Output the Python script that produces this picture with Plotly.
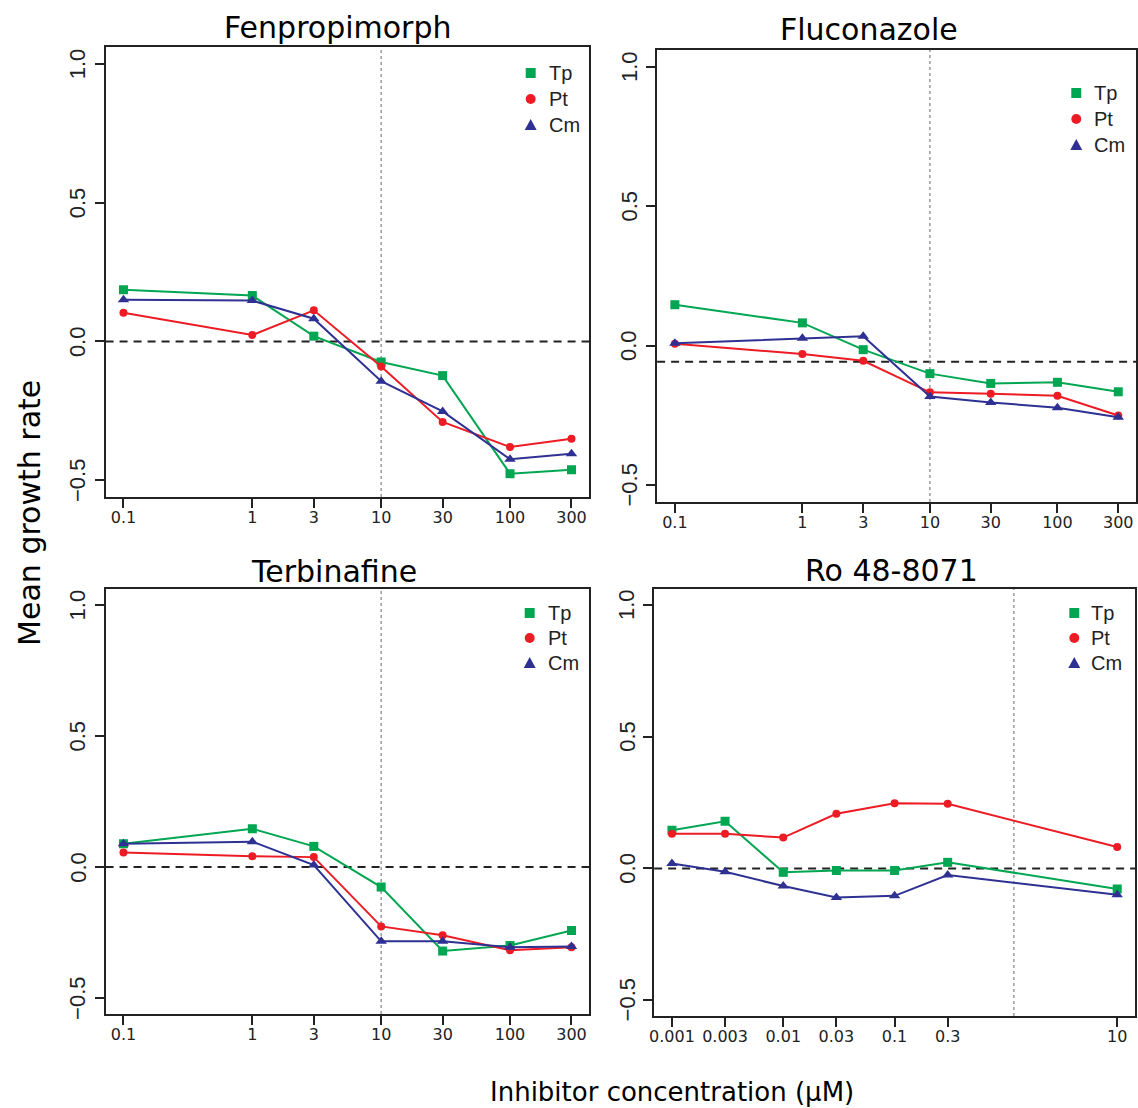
import math
import plotly.graph_objects as go

W, H = 1138, 1108

# Inhibitor concentrations (µM) and tick labels
conc_main = [0.1, 1, 3, 10, 30, 100, 300]
conc_ro = [0.001, 0.003, 0.01, 0.03, 0.1, 0.3, 10]
ticks_main = ["0.1", "1", "3", "10", "30", "100", "300"]
ticks_ro = ["0.001", "0.003", "0.01", "0.03", "0.1", "0.3", "10"]

# Mean growth rates per strain
fen_tp = [0.186, 0.165, 0.019, -0.074, -0.123, -0.476, -0.462]
fen_pt = [0.103, 0.023, 0.112, -0.090, -0.290, -0.380, -0.350]
fen_cm = [0.150, 0.147, 0.082, -0.143, -0.252, -0.424, -0.404]

flu_tp = [0.147, 0.082, -0.014, -0.100, -0.135, -0.131, -0.165]
flu_pt = [0.007, -0.030, -0.054, -0.167, -0.172, -0.179, -0.250]
flu_cm = [0.009, 0.027, 0.034, -0.182, -0.203, -0.222, -0.256]

ter_tp = [0.089, 0.146, 0.079, -0.076, -0.320, -0.299, -0.242]
ter_pt = [0.056, 0.041, 0.038, -0.226, -0.260, -0.317, -0.306]
ter_cm = [0.089, 0.097, 0.008, -0.283, -0.283, -0.306, -0.303]

ro_tp = [0.145, 0.179, -0.015, -0.008, -0.008, 0.023, -0.078]
ro_pt = [0.131, 0.131, 0.117, 0.207, 0.247, 0.245, 0.081]
ro_cm = [0.019, -0.013, -0.067, -0.110, -0.104, -0.025, -0.100]

# Reference lines: horizontal baseline and vertical marker concentration
hline_vals = [0.0, -0.057, 0.0, 0.0]
vline_vals = [10, 10, 10, 1.18]

y_ticks = [-0.5, 0.0, 0.5, 1.0]
y_tick_text = ["\u22120.5", "0.0", "0.5", "1.0"]
y_range = [-0.56, 1.06]

strains = ["Tp", "Pt", "Cm"]
colors = {"Tp": "#00A651", "Pt": "#ED1C24", "Cm": "#2E3192"}
symbols = {"Tp": "square", "Pt": "circle", "Cm": "triangle-up"}
msize = {"Tp": 9, "Pt": 8, "Cm": 10}

panels = [
    dict(title="Fenpropimorph", conc=conc_main, ticks=ticks_main,
         data=[fen_tp, fen_pt, fen_cm],
         box=(101, 587, 47, 497), title_pos=(334, 27), ylab_x=73,
         legend=(528, 544, 73, 26)),
    dict(title="Fluconazole", conc=conc_main, ticks=ticks_main,
         data=[flu_tp, flu_pt, flu_cm],
         box=(655, 1136, 50, 502), title_pos=(868, 29), ylab_x=627,
         legend=(1076, 1092, 93, 26)),
    dict(title="Terbinafine", conc=conc_main, ticks=ticks_main,
         data=[ter_tp, ter_pt, ter_cm],
         box=(101, 587, 589, 1014), title_pos=(330, 571), ylab_x=73,
         legend=(527, 543, 613, 25)),
    dict(title="Ro 48-8071", conc=conc_ro, ticks=ticks_ro,
         data=[ro_tp, ro_pt, ro_cm],
         box=(652, 1135, 589, 1016), title_pos=(890, 570), ylab_x=625,
         legend=(1074, 1089, 613, 25)),
]


def px(x):
    return x / W


def py(y):
    return 1 - y / H


fig = go.Figure()
layout = dict(
    width=W, height=H, margin=dict(l=0, r=0, t=0, b=0),
    paper_bgcolor="white", plot_bgcolor="white", showlegend=False,
)
annotations = []
shapes = []
AX = "#222222"

for i, p in enumerate(panels, start=1):
    xa = "x" if i == 1 else f"x{i}"
    ya = "y" if i == 1 else f"y{i}"
    l, r, t, b = p["box"]
    lo, hi = math.log10(min(p["conc"])), math.log10(max(p["conc"]))
    pad = 0.04 * (hi - lo)

    for s, vals in zip(strains, p["data"]):
        fig.add_trace(go.Scatter(
            x=p["conc"], y=vals, mode="lines+markers", xaxis=xa, yaxis=ya,
            line=dict(color=colors[s], width=2),
            marker=dict(symbol=symbols[s], size=msize[s], color=colors[s]),
            name=s, showlegend=False,
        ))

    layout["xaxis" if i == 1 else f"xaxis{i}"] = dict(
        domain=[px(l), px(r)], anchor=ya, type="log",
        range=[lo - pad, hi + pad],
        tickvals=p["conc"], ticktext=p["ticks"],
        ticks="outside", ticklen=9, tickwidth=2, tickcolor=AX,
        ticklabelstandoff=-4,
        showline=True, linecolor=AX, linewidth=2, mirror=True,
        showgrid=False, zeroline=False,
        tickfont=dict(family="DejaVu Sans", size=16, color="#222"),
    )
    layout["yaxis" if i == 1 else f"yaxis{i}"] = dict(
        domain=[py(b), py(t)], anchor=xa, range=y_range,
        tickvals=y_ticks, showticklabels=False,
        ticks="outside", ticklen=9, tickwidth=2, tickcolor=AX,
        showline=True, linecolor=AX, linewidth=2, mirror=True,
        showgrid=False, zeroline=False,
    )

    # rotated y tick labels
    for v, txt in zip(y_ticks, y_tick_text):
        annotations.append(dict(
            x=px(p["ylab_x"]), xref="paper", y=v, yref=ya,
            text=txt, textangle=-90, showarrow=False,
            xanchor="center", yanchor="middle",
            font=dict(family="Liberation Sans", size=22, color="#222"),
        ))

    # panel title
    tx, ty = p["title_pos"]
    annotations.append(dict(
        x=px(tx), y=py(ty), xref="paper", yref="paper", text=p["title"],
        showarrow=False, xanchor="center", yanchor="middle",
        font=dict(family="DejaVu Sans", size=30, color="black"),
    ))

    # reference lines (log axis: shape x in data units)
    shapes.append(dict(
        type="line", xref=f"{xa} domain", yref=ya, x0=0, x1=1,
        y0=hline_vals[i - 1], y1=hline_vals[i - 1],
        line=dict(color="#222", width=2, dash="8px,6px"), layer="below",
    ))
    shapes.append(dict(
        type="line", xref=xa, yref=f"{ya} domain",
        x0=vline_vals[i - 1], x1=vline_vals[i - 1],
        y0=0, y1=1,
        line=dict(color="#9a9a9a", width=1.5, dash="3px,3px"), layer="below",
    ))

    # legend keys and labels
    kx, tx0, ky, dy = p["legend"]
    for j, s in enumerate(strains):
        cy = ky + j * dy
        c = colors[s]
        if s == "Tp":
            shapes.append(dict(type="rect", xref="paper", yref="paper",
                               x0=px(kx - 5), x1=px(kx + 5), y0=py(cy + 5), y1=py(cy - 5),
                               fillcolor=c, line=dict(width=0)))
        elif s == "Pt":
            shapes.append(dict(type="circle", xref="paper", yref="paper",
                               x0=px(kx - 5), x1=px(kx + 5), y0=py(cy + 5), y1=py(cy - 5),
                               fillcolor=c, line=dict(width=0)))
        else:
            path = (f"M {px(kx - 6)},{py(cy + 5)} L {px(kx + 6)},{py(cy + 5)} "
                    f"L {px(kx)},{py(cy - 6)} Z")
            shapes.append(dict(type="path", xref="paper", yref="paper", path=path,
                               fillcolor=c, line=dict(width=0)))
        annotations.append(dict(
            x=px(tx0), y=py(cy), xref="paper", yref="paper", text=s,
            showarrow=False, xanchor="left", yanchor="middle",
            font=dict(family="Liberation Sans", size=20, color="#222"),
        ))

# shared axis titles
annotations.append(dict(
    x=px(670), y=py(1092), xref="paper", yref="paper",
    text="Inhibitor concentration (\u03bcM)", showarrow=False,
    xanchor="center", yanchor="middle",
    font=dict(family="DejaVu Sans", size=26, color="black"),
))
annotations.append(dict(
    x=px(25), y=py(513), xref="paper", yref="paper",
    text="Mean growth rate", textangle=-90, showarrow=False,
    xanchor="center", yanchor="middle",
    font=dict(family="DejaVu Sans", size=30, color="black"),
))

layout["annotations"] = annotations
layout["shapes"] = shapes
fig.update_layout(**layout)
fig.write_html("out.html")
